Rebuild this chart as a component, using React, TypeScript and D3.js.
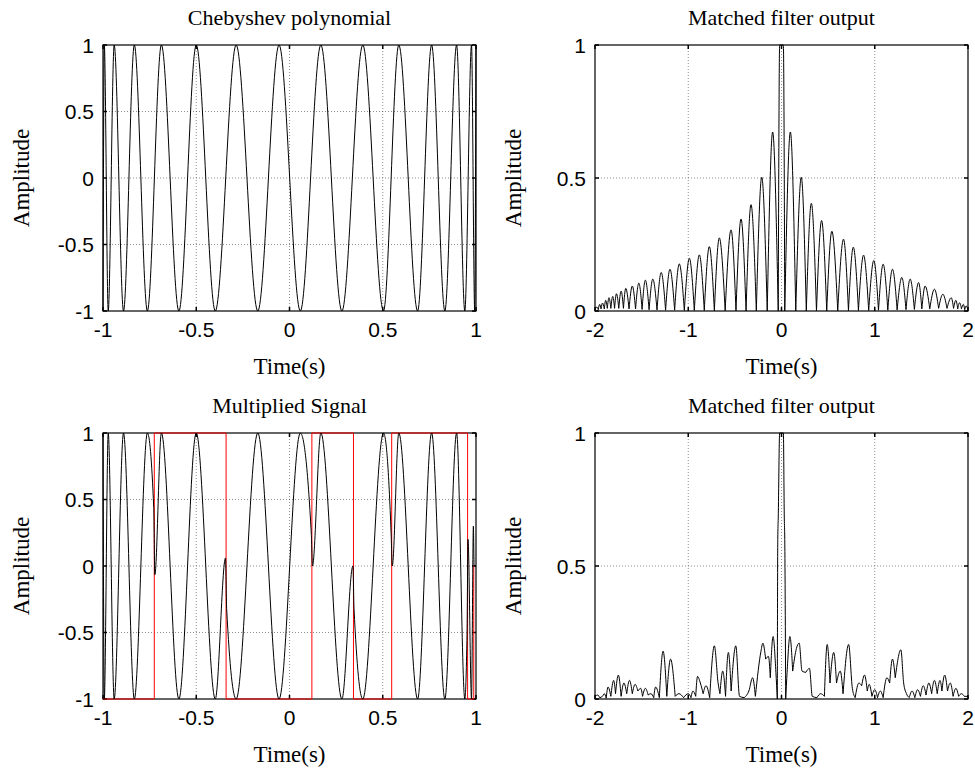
import React from "react";
import * as d3 from "d3";

// ---------- Data ----------
// Chebyshev polynomial: times of the successive extremes and their amplitudes
const chebTimes = [-1, -0.993, -0.972, -0.94, -0.89, -0.832, -0.762, -0.687, -0.593, -0.5, -0.398, -0.286, -0.17, -0.056, 0.058, 0.168, 0.281, 0.393, 0.504, 0.586, 0.687, 0.762, 0.833, 0.896, 0.94, 0.976, 0.993, 1.0];
const chebValues = [-1, 1, -1, 1, -1, 1, -1, 1, -1, 1, -1, 1, -1, 1, -1, 1, -1, 1, -1, 1, -1, 1, -1, 1, -1, 1, -1, 1];

// Multiplied signal (extremes and the samples on both sides of each code switch)
const mulTimes = [-1, -0.993, -0.972, -0.94, -0.89, -0.832, -0.762, -0.728, -0.722, -0.687, -0.593, -0.5, -0.398, -0.343, -0.337, -0.286, -0.17, -0.056, 0.058, 0.117, 0.123, 0.168, 0.281, 0.34, 0.346, 0.393, 0.504, 0.545, 0.551, 0.586, 0.687, 0.762, 0.833, 0.896, 0.94, 0.952, 0.957, 0.976, 0.986, 0.99, 1.0];
const mulValues = [1, -1, 1, -1, 1, -1, 1, 0.44, -0.065, 1, -1, 1, -1, 0.06, -0.32, -1, 1, -1, 1, 0.24, 0, 1, -1, 0, -0.32, -1, 1, 0.24, 0, 1, -1, 1, -1, 1, -1, -0.5, 0.2, -1, 0.3, 0, 0];

// Binary code (red): switch times and levels
const codeTimes = [-1, -0.725, -0.34, 0.12, 0.343, 0.548, 0.955, 0.988];
const codeLevels = [-1, 1, -1, 1, -1, 1, -1, 0];

// Matched filter output 1 (lobe tops and troughs)
const mf1Times = [-2.0, -1.98, -1.965, -1.95, -1.935, -1.92, -1.9, -1.885, -1.868, -1.85, -1.83, -1.81, -1.79, -1.77, -1.745, -1.72, -1.695, -1.67, -1.635, -1.6, -1.565, -1.53, -1.495, -1.46, -1.42, -1.38, -1.335, -1.29, -1.243, -1.196, -1.146, -1.096, -1.042, -0.988, -0.935, -0.881, -0.828, -0.774, -0.72, -0.667, -0.604, -0.541, -0.488, -0.434, -0.38, -0.327, -0.27, -0.212, -0.153, -0.095, -0.035, -0.02, 0.02, 0.035, 0.095, 0.153, 0.212, 0.266, 0.32, 0.375, 0.43, 0.485, 0.54, 0.603, 0.665, 0.718, 0.77, 0.825, 0.88, 0.935, 0.99, 1.04, 1.09, 1.14, 1.19, 1.24, 1.29, 1.335, 1.38, 1.425, 1.47, 1.505, 1.54, 1.59, 1.64, 1.685, 1.73, 1.775, 1.82, 1.845, 1.87, 1.89, 1.91, 1.93, 1.95, 1.965, 1.98, 2.0];
const mf1Values = [0.005, 0.015, 0.005, 0.025, 0.008, 0.03, 0.008, 0.04, 0.01, 0.05, 0.01, 0.055, 0.01, 0.065, 0.01, 0.075, 0.01, 0.085, 0.008, 0.094, 0.008, 0.105, 0.006, 0.116, 0.005, 0.12, 0.004, 0.145, 0.003, 0.157, 0.003, 0.177, 0.002, 0.198, 0.002, 0.211, 0.002, 0.242, 0.001, 0.275, 0.001, 0.305, 0.001, 0.346, 0, 0.4, 0, 0.503, 0, 0.673, 0, 1.0, 1.0, 0, 0.673, 0, 0.503, 0, 0.405, 0, 0.34, 0, 0.3, 0.001, 0.27, 0.001, 0.24, 0.002, 0.21, 0.002, 0.19, 0.003, 0.176, 0.003, 0.157, 0.004, 0.126, 0.005, 0.12, 0.006, 0.107, 0.008, 0.094, 0.008, 0.082, 0.01, 0.063, 0.01, 0.05, 0.01, 0.04, 0.008, 0.031, 0.008, 0.025, 0.005, 0.019, 0.005];

// Matched filter output 2
const mf2Times = [-2.0, -1.97, -1.95, -1.92, -1.9, -1.88, -1.86, -1.83, -1.8, -1.78, -1.75, -1.72, -1.69, -1.66, -1.63, -1.6, -1.57, -1.54, -1.51, -1.49, -1.46, -1.43, -1.4, -1.37, -1.35, -1.31, -1.27, -1.23, -1.19, -1.14, -1.1, -1.05, -1.0, -0.97, -0.95, -0.92, -0.9, -0.87, -0.84, -0.81, -0.77, -0.72, -0.68, -0.66, -0.63, -0.6, -0.57, -0.54, -0.49, -0.45, -0.4, -0.35, -0.31, -0.28, -0.22, -0.2, -0.17, -0.14, -0.12, -0.09, -0.06, -0.045, -0.04, -0.035, -0.02, 0.02, 0.03, 0.035, 0.045, 0.06, 0.09, 0.12, 0.16, 0.19, 0.22, 0.26, 0.3, 0.33, 0.38, 0.42, 0.46, 0.49, 0.52, 0.56, 0.59, 0.63, 0.66, 0.72, 0.76, 0.79, 0.83, 0.86, 0.89, 0.92, 0.94, 0.97, 1.0, 1.03, 1.06, 1.09, 1.13, 1.16, 1.19, 1.22, 1.28, 1.31, 1.34, 1.37, 1.4, 1.43, 1.46, 1.49, 1.52, 1.55, 1.58, 1.61, 1.64, 1.67, 1.7, 1.72, 1.75, 1.78, 1.81, 1.84, 1.87, 1.9, 1.93, 1.96, 2.0];
const mf2Values = [0.01, 0.015, 0.005, 0.01, 0.02, 0.003, 0.045, 0.01, 0.07, 0.02, 0.09, 0.01, 0.06, 0.02, 0.07, 0.02, 0.055, 0.03, 0.04, 0.01, 0.04, 0.015, 0.02, 0.005, 0.045, 0.005, 0.18, 0.01, 0.15, 0.01, 0.02, 0.005, 0.02, 0.005, 0.03, 0.01, 0.085, 0.06, 0.02, 0.05, 0.005, 0.2, 0.06, 0.02, 0.105, 0.01, 0.175, 0.03, 0.2, 0.01, 0.005, 0.03, 0.08, 0.01, 0.18, 0.21, 0.15, 0.16, 0.08, 0.235, 0.1, 0.0, 0.6, 0.68, 1.0, 1.0, 0.68, 0.6, 0.0, 0.1, 0.235, 0.105, 0.19, 0.21, 0.105, 0.1, 0.115, 0.01, 0.005, 0.02, 0.01, 0.205, 0.06, 0.175, 0.06, 0.105, 0.02, 0.205, 0.04, 0.005, 0.06, 0.05, 0.09, 0.03, 0.055, 0.01, 0.035, 0.005, 0.03, 0.005, 0.08, 0.06, 0.15, 0.08, 0.185, 0.06, 0.02, 0.005, 0.03, 0.005, 0.035, 0.01, 0.05, 0.015, 0.06, 0.02, 0.07, 0.02, 0.07, 0.03, 0.09, 0.03, 0.06, 0.01, 0.04, 0.01, 0.02, 0.01, 0.01];

// Axes ticks
const sigXTicks = [-1, -0.5, 0, 0.5, 1];
const sigXTickLabels = ["-1", "-0.5", "0", "0.5", "1"];
const sigYTicks = [-1, -0.5, 0, 0.5, 1];
const sigYTickLabels = ["-1", "-0.5", "0", "0.5", "1"];
const mfXTicks = [-2, -1, 0, 1, 2];
const mfXTickLabels = ["-2", "-1", "0", "1", "2"];
const mfYTicks = [0, 0.5, 1];
const mfYTickLabels = ["0", "0.5", "1"];

const titles = ["Chebyshev polynomial", "Matched filter output", "Multiplied Signal", "Matched filter output"];
const xLabelText = "Time(s)";
const yLabelText = "Amplitude";

// ---------- Layout ----------
const W = 975;
const H = 773;
const COLS = [[103, 476], [595, 968]];
const ROWS = [[45, 311], [433, 699]];
const SERIF = "'Liberation Serif', 'Times New Roman', serif";
const SANS = "'Liberation Sans', Arial, sans-serif";
const TICK_FS = 21;
const TITLE_FS = 22;
const LABEL_FS = 23;

type Series = { times: number[]; values: number[]; color: string; curve: d3.CurveFactory; lobes?: boolean };

type PanelProps = {
  id: string;
  col: number[];
  row: number[];
  xDomain: [number, number];
  yDomain: [number, number];
  xTicks: number[];
  xTickLabels: string[];
  yTicks: number[];
  yTickLabels: string[];
  title: string;
  series: Series[];
};

// split a series into pieces that join at its local minima (lobes of a magnitude trace)
function splitAtMinima(pts: [number, number][]): [number, number][][] {
  const cuts: number[] = [0];
  for (let i = 1; i < pts.length - 1; i++) {
    if (pts[i][1] <= pts[i - 1][1] && pts[i][1] <= pts[i + 1][1]) cuts.push(i);
  }
  cuts.push(pts.length - 1);
  const pieces: [number, number][][] = [];
  for (let k = 0; k < cuts.length - 1; k++) {
    if (cuts[k + 1] > cuts[k]) pieces.push(pts.slice(cuts[k], cuts[k + 1] + 1));
  }
  return pieces;
}

function Panel(p: PanelProps) {
  const [x0, x1] = p.col;
  const [y0, y1] = p.row;
  const x = d3.scaleLinear().domain(p.xDomain).range([x0, x1]);
  const y = d3.scaleLinear().domain(p.yDomain).range([y1, y0]);
  const tl = 4;
  const cx = (x0 + x1) / 2;
  const cy = (y0 + y1) / 2;
  return (
    <g>
      <defs>
        <clipPath id={p.id}>
          <rect x={x0 - 1} y={y0 - 1} width={x1 - x0 + 2} height={y1 - y0 + 2} />
        </clipPath>
      </defs>
      {/* grid */}
      {p.xTicks.map((t, i) =>
        i > 0 && i < p.xTicks.length - 1 ? (
          <line key={"gx" + i} x1={x(t)} x2={x(t)} y1={y0} y2={y1} stroke="#444" strokeWidth={0.6} strokeDasharray="1,2" />
        ) : null
      )}
      {p.yTicks.map((t, i) =>
        i > 0 && i < p.yTicks.length - 1 ? (
          <line key={"gy" + i} x1={x0} x2={x1} y1={y(t)} y2={y(t)} stroke="#444" strokeWidth={0.6} strokeDasharray="1,2" />
        ) : null
      )}
      {/* box */}
      <rect x={x0} y={y0} width={x1 - x0} height={y1 - y0} fill="none" stroke="#000" strokeWidth={1.2} />
      {/* ticks */}
      {p.xTicks.map((t, i) => (
        <g key={"tx" + i}>
          <line x1={x(t)} x2={x(t)} y1={y1} y2={y1 - tl} stroke="#000" strokeWidth={1.5} />
          <line x1={x(t)} x2={x(t)} y1={y0} y2={y0 + tl} stroke="#000" strokeWidth={1.5} />
          <text x={x(t)} y={y1 + 26} textAnchor="middle" fontFamily={SANS} fontSize={TICK_FS} fill="#000">
            {p.xTickLabels[i]}
          </text>
        </g>
      ))}
      {p.yTicks.map((t, i) => (
        <g key={"ty" + i}>
          <line x1={x0} x2={x0 + tl} y1={y(t)} y2={y(t)} stroke="#000" strokeWidth={1.5} />
          <line x1={x1} x2={x1 - tl} y1={y(t)} y2={y(t)} stroke="#000" strokeWidth={1.5} />
          <text x={x0 - 9} y={y(t)} dy="0.36em" textAnchor="end" fontFamily={SANS} fontSize={TICK_FS} fill="#000">
            {p.yTickLabels[i]}
          </text>
        </g>
      ))}
      {/* data */}
      <g clipPath={`url(#${p.id})`}>
        {p.series.map((s, k) => {
          const pts: [number, number][] = s.times.map((t, i) => [t, s.values[i]]);
          const gen = d3
            .line<[number, number]>()
            .x((d) => x(d[0]))
            .y((d) => y(d[1]))
            .curve(s.curve);
          const pieces = s.lobes ? splitAtMinima(pts) : [pts];
          const d = pieces.map((pc) => gen(pc) || "").join("");
          return <path key={k} d={d} fill="none" stroke={s.color} strokeWidth={1} strokeLinejoin="round" />;
        })}
      </g>
      {/* labels */}
      <text x={cx} y={y0 - 20} textAnchor="middle" fontFamily={SERIF} fontSize={TITLE_FS} fill="#000">
        {p.title}
      </text>
      <text x={cx} y={y1 + 63} textAnchor="middle" fontFamily={SERIF} fontSize={LABEL_FS} fill="#000">
        {xLabelText}
      </text>
      <text
        transform={`translate(${x0 - 74},${cy}) rotate(-90)`}
        textAnchor="middle"
        fontFamily={SERIF}
        fontSize={LABEL_FS}
        fill="#000"
      >
        {yLabelText}
      </text>
    </g>
  );
}

export default function App() {
  const black = "#000000";
  const red = "#ff0000";
  return (
    <svg width={W} height={H} style={{ position: "absolute", left: 0, top: 0, background: "#fff" }}>
      <rect x={0} y={0} width={W} height={H} fill="#fff" />
      <Panel
        id="c1"
        col={COLS[0]}
        row={ROWS[0]}
        xDomain={[-1, 1]}
        yDomain={[-1, 1]}
        xTicks={sigXTicks}
        xTickLabels={sigXTickLabels}
        yTicks={sigYTicks}
        yTickLabels={sigYTickLabels}
        title={titles[0]}
        series={[{ times: chebTimes, values: chebValues, color: black, curve: d3.curveMonotoneX }]}
      />
      <Panel
        id="c2"
        col={COLS[1]}
        row={ROWS[0]}
        xDomain={[-2, 2]}
        yDomain={[0, 1]}
        xTicks={mfXTicks}
        xTickLabels={mfXTickLabels}
        yTicks={mfYTicks}
        yTickLabels={mfYTickLabels}
        title={titles[1]}
        series={[{ times: mf1Times, values: mf1Values, color: black, curve: d3.curveMonotoneX, lobes: true }]}
      />
      <Panel
        id="c3"
        col={COLS[0]}
        row={ROWS[1]}
        xDomain={[-1, 1]}
        yDomain={[-1, 1]}
        xTicks={sigXTicks}
        xTickLabels={sigXTickLabels}
        yTicks={sigYTicks}
        yTickLabels={sigYTickLabels}
        title={titles[2]}
        series={[
          { times: codeTimes, values: codeLevels, color: red, curve: d3.curveStepAfter },
          { times: mulTimes, values: mulValues, color: black, curve: d3.curveMonotoneX },
        ]}
      />
      <Panel
        id="c4"
        col={COLS[1]}
        row={ROWS[1]}
        xDomain={[-2, 2]}
        yDomain={[0, 1]}
        xTicks={mfXTicks}
        xTickLabels={mfXTickLabels}
        yTicks={mfYTicks}
        yTickLabels={mfYTickLabels}
        title={titles[3]}
        series={[{ times: mf2Times, values: mf2Values, color: black, curve: d3.curveMonotoneX, lobes: true }]}
      />
    </svg>
  );
}
